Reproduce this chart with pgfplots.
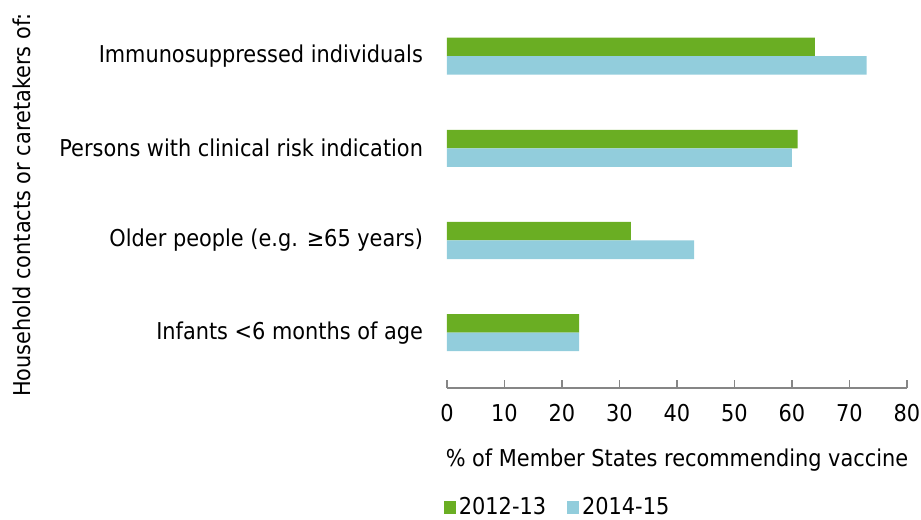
\documentclass[border=0pt]{standalone}
\usepackage{pgfplots}
\pgfplotsset{compat=1.18}
\usepackage{fontspec}
\setmainfont{DejaVu Sans Condensed}
\definecolor{GreenBar}{RGB}{106,174,35}
\definecolor{BlueBar}{RGB}{146,205,220}
\definecolor{AxisGray}{RGB}{134,134,134}

\begin{document}
\begin{tikzpicture}
\fontsize{17.4}{20}\selectfont
\useasboundingbox (-335.25pt,-99pt) rectangle (355.5pt,291pt);
\begin{axis}[
    at={(0pt,0pt)}, anchor=south west,
    scale only axis, width=345pt, height=283.5pt,
    xbar, bar width=13.9pt,
    xmin=0, xmax=80, ymin=-0.6, ymax=3.5,
    axis x line*=bottom, axis y line*=left,
    y axis line style={draw=none},
    x axis line style={draw=AxisGray, line width=0.9pt},
    xtick={0,10,...,80},
    tick align=inside,
    xtick style={draw=AxisGray, line width=0.9pt},
    major tick length=6pt,
    ytick={0,1,2,3},
    yticklabels={Infants <6 months of age, Older people (e.g. ≥65 years), Persons with clinical risk indication, Immunosuppressed individuals},
    ytick style={draw=none},
    yticklabel style={xshift=-12pt},
    xticklabel style={yshift=-6pt},
    /pgf/number format/assume math mode=true,
    tick label style={font=\fontsize{17.4}{20}\selectfont},
    label style={font=\fontsize{17.4}{20}\selectfont},
    xlabel={\% of Member States recommending vaccine},
    xlabel style={at={(axis description cs:0.5,-0.19)}, anchor=center},
    ylabel={Household contacts or caretakers of:},
    ylabel style={at={(axis description cs:-0.924,0.484)}, anchor=center, rotate=0},
    legend columns=2,
    legend style={at={(axis description cs:-0.0152,-0.316)}, anchor=west,
        draw=none, fill=none, font=\fontsize{17.4}{20}\selectfont,
        /tikz/every even column/.append style={column sep=14pt}},
    legend image code/.code={\fill[#1] (0pt,-4.8pt) rectangle (9pt,4.8pt);},
]
\addplot[fill=GreenBar, draw=none, bar shift=6.95pt] coordinates {(23,0) (32,1) (61,2) (64,3)};
\addplot[fill=BlueBar, draw=none, bar shift=-6.95pt] coordinates {(23,0) (43,1) (60,2) (73,3)};
\legend{2012-13, 2014-15}
\end{axis}
\end{tikzpicture}
\end{document}
